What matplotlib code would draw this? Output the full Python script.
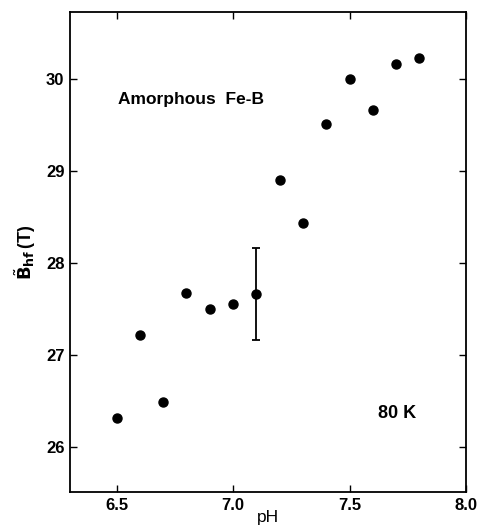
import matplotlib
matplotlib.use("Agg")
import matplotlib.pyplot as plt

# data
ph = [6.5, 6.6, 6.7, 6.8, 6.9, 7.0, 7.1, 7.2, 7.3, 7.4, 7.5, 7.6, 7.7, 7.8]
bhf = [26.31, 27.22, 26.49, 27.68, 27.50, 27.55, 27.66, 28.90, 28.44, 29.51,
       30.00, 29.67, 30.17, 30.23]
err_x = [7.1]
err_y = [27.66]
err_val = [0.5]

xticks = [6.5, 7.0, 7.5, 8.0]
yticks = [26, 27, 28, 29, 30]

plt.rcParams['font.family'] = ['Liberation Sans', 'DejaVu Sans']

fig = plt.figure(figsize=(4.79, 5.29), dpi=100)
ax = fig.add_axes([0.146, 0.070, 0.827, 0.907])

ax.plot(ph, bhf, 'o', color='black', markersize=6.5)
ax.errorbar(err_x, err_y, yerr=err_val, fmt='none', ecolor='black',
            elinewidth=1.3, capsize=3, capthick=1.3)

ax.set_xlim(6.3, 8.0)
ax.set_ylim(25.51, 30.73)
ax.set_xticks(xticks)
ax.set_xticklabels(["6.5", "7.0", "7.5", "8.0"])
ax.set_yticks(yticks)
ax.tick_params(direction='in', top=True, right=True, length=5, width=1,
               labelsize=12, pad=4)
for lab in ax.get_xticklabels() + ax.get_yticklabels():
    lab.set_fontweight('bold')
for s in ax.spines.values():
    s.set_linewidth(1.3)

ax.text(6.505, 29.78, "Amorphous  Fe-B", fontsize=12.5, fontweight='bold',
        va='center', ha='left')
ax.text(7.62, 26.36, "80 K", fontsize=13, fontweight='bold',
        va='center', ha='left')

ax.set_xlabel("pH", fontsize=12.5, labelpad=-2)
ax.set_ylabel(r"$\tilde{\mathbf{B}}_{\mathbf{hf}}\,$(T)", fontsize=13,
              fontweight='bold', labelpad=6)

plt.savefig("out.png", dpi=100)
